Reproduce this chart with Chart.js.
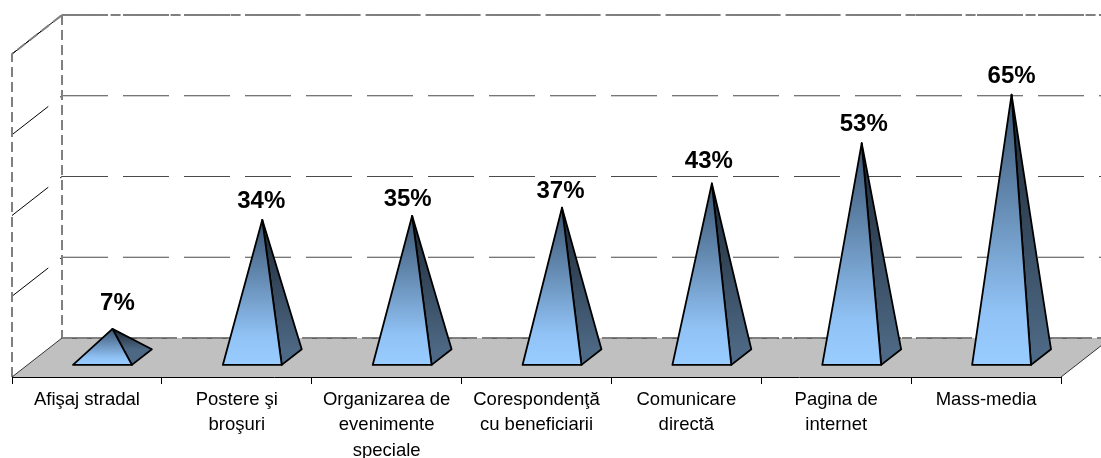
<!DOCTYPE html>
<html>
<head>
<meta charset="utf-8">
<script src="https://cdn.jsdelivr.net/npm/chart.js@4"></script>
<style>
  body { margin: 0; background: #fff; }
  canvas { display: block; }
</style>
</head>
<body>
<canvas id="myChart" width="1101" height="458"></canvas>
<script>
const categories = [
  "Afişaj stradal",
  ["Postere şi", "broşuri"],
  ["Organizarea de", "evenimente", "speciale"],
  ["Corespondenţă", "cu beneficiarii"],
  ["Comunicare", "directă"],
  ["Pagina de", "internet"],
  "Mass-media",
];
const percentValues = [7, 34, 35, 37, 43, 53, 65];

// ラベルの微調整（元の図では手で動かされている）
const labelNudgeX = [5, -1, -4.5, -1.5, -3, 2, 0];
const labelNudgeY = [-7, 0, 2, 2, -4, -1, 0];

const depthX = 50;
const depthY = 39;
const baseFront = 0.31;
const baseBack = 0.71;

// 奥行き方向にずらす
function shift(x, y, d) {
  return [x + depthX * d, y - depthY * d];
}

function line(ctx, pts, color, width, dash) {
  ctx.save();
  ctx.strokeStyle = color;
  ctx.lineWidth = width;
  ctx.setLineDash(dash || []);
  ctx.beginPath();
  pts.forEach((p, i) => (i ? ctx.lineTo(p[0], p[1]) : ctx.moveTo(p[0], p[1])));
  ctx.stroke();
  ctx.restore();
}

function poly(ctx, pts, fill) {
  ctx.beginPath();
  pts.forEach((p, i) => (i ? ctx.lineTo(p[0], p[1]) : ctx.moveTo(p[0], p[1])));
  ctx.closePath();
  ctx.fillStyle = fill;
  ctx.fill();
  ctx.stroke();
}

// 壁と床とグリッド線
const wallsPlugin = {
  id: "walls",
  beforeDatasetsDraw(chart) {
    const ctx = chart.ctx;
    const a = chart.chartArea;
    const yScale = chart.scales.y;
    const longDash = [46, 15];
    const wallDash = [10, 5];
    const wallColor = "#808080";
    const top = a.top;
    const bottom = a.bottom;

    yScale.ticks.forEach((t, i) => {
      const y = yScale.getPixelForTick(i);
      if (t.value > 0) {
        line(ctx, [[a.left, y], shift(a.left, y, 1)], "#000000", 1, longDash);
        line(ctx, [shift(a.left, y, 1), shift(a.right, y, 1)], t.value == 80 ? "#000000" : "#4A4A4A", 1.2, longDash);
      }
    });

    line(ctx, [[a.left, top], shift(a.left, top, 1)], "#000000", 1);
    line(ctx, [[a.left, bottom], [a.left, top], shift(a.left, top, 1), shift(a.right, top, 1)], wallColor, 2, wallDash);
    line(ctx, [shift(a.left, top, 1), shift(a.left, bottom, 1)], wallColor, 2, wallDash);

    // 床
    ctx.save();
    ctx.beginPath();
    const floor = [[a.left, bottom], [a.right, bottom], shift(a.right, bottom, 1), shift(a.left, bottom, 1)];
    floor.forEach((p, i) => (i ? ctx.lineTo(p[0], p[1]) : ctx.moveTo(p[0], p[1])));
    ctx.closePath();
    ctx.fillStyle = "#C0C0C0";
    ctx.fill();
    ctx.restore();
    line(ctx, [shift(a.left, bottom, 1), shift(a.right, bottom, 1)], "#000000", 1, longDash);
    line(ctx, [shift(a.left, bottom, 1), shift(a.right, bottom, 1)], wallColor, 2, wallDash);
    line(ctx, [[a.left, bottom], shift(a.left, bottom, 1)], "#333333", 1);
    line(ctx, [[a.right, bottom], shift(a.right, bottom, 1)], "#333333", 1);
  },
};

// ピラミッドとラベル
const pyramidPlugin = {
  id: "pyramids",
  afterDatasetsDraw(chart) {
    const ctx = chart.ctx;
    const meta = chart.getDatasetMeta(0);
    const base = chart.scales.y.getPixelForValue(0);

    meta.data.forEach((bar, i) => {
      const half = bar.width / 2;
      const fl = shift(bar.x - half, base, baseFront);
      const fr = shift(bar.x + half, base, baseFront);
      const br = shift(bar.x + half, base, baseBack);
      const apex = shift(bar.x, bar.y, (baseFront + baseBack) / 2);

      const frontGrad = ctx.createLinearGradient(0, apex[1], 0, fl[1]);
      frontGrad.addColorStop(0, "#3A5470");
      frontGrad.addColorStop(0.8, "#90C2F5");
      frontGrad.addColorStop(1, "#99CCFF");
      const sideGrad = ctx.createLinearGradient(0, apex[1], 0, br[1]);
      sideGrad.addColorStop(0, "#1C2733");
      sideGrad.addColorStop(1, "#4D6884");

      ctx.save();
      ctx.strokeStyle = "#000000";
      ctx.lineWidth = 1.8;
      ctx.lineJoin = "round";
      poly(ctx, [apex, fr, br], sideGrad);
      poly(ctx, [apex, fl, fr], frontGrad);
      ctx.fillStyle = "#000000";
      ctx.font = "bold 24px 'Liberation Sans', Arial, sans-serif";
      ctx.textAlign = "center";
      ctx.textBaseline = "middle";
      ctx.fillText(percentValues[i] + "%", apex[0] + labelNudgeX[i], apex[1] - 18 + labelNudgeY[i]);
      ctx.restore();
    });
  },
};

window.onload = function () {
  const ctx = document.getElementById("myChart").getContext("2d");
  window.myChart = new Chart(ctx, {
    type: "bar",
    data: {
      labels: categories,
      datasets: [
        {
          data: percentValues,
          backgroundColor: "rgba(0,0,0,0)",
          borderWidth: 0,
          categoryPercentage: 1.0,
          barPercentage: 0.393,
        },
      ],
    },
    options: {
      responsive: false,
      animation: false,
      layout: { padding: { left: 12, top: 54, right: 40, bottom: 0 } },
      plugins: {
        legend: { display: false },
        tooltip: { enabled: false },
      },
      scales: {
        x: {
          afterFit(scale) {
            scale.height = 81;
          },
          grid: {
            offset: true,
            drawOnChartArea: false,
            color: "#000000",
            tickLength: 7,
          },
          border: { color: "#000000", width: 1 },
          ticks: {
            autoSkip: false,
            maxRotation: 0,
            minRotation: 0,
            padding: 3,
            color: "#000000",
            font: { family: "'Liberation Sans', Arial, sans-serif", size: 18.5, lineHeight: 1.38 },
          },
        },
        y: {
          min: 0,
          max: 80,
          afterFit(scale) {
            scale.width = 0;
          },
          grid: { display: false },
          border: { display: false },
          ticks: { display: false, stepSize: 20 },
        },
      },
    },
    plugins: [wallsPlugin, pyramidPlugin],
  });
};
</script>
</body>
</html>
